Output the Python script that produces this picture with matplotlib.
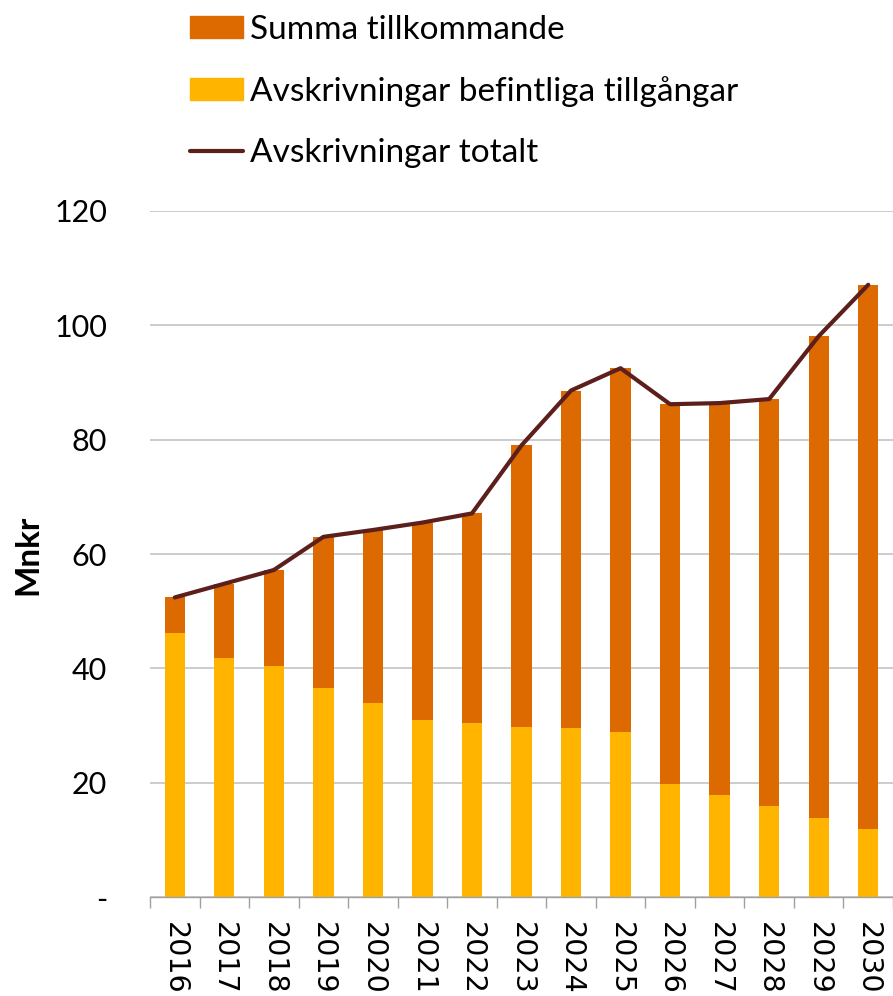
import numpy as np
import matplotlib
matplotlib.use("Agg")
import matplotlib.pyplot as plt
from matplotlib.patches import Patch
from matplotlib.lines import Line2D

years = ['2016', '2017', '2018', '2019', '2020', '2021', '2022', '2023',
         '2024', '2025', '2026', '2027', '2028', '2029', '2030']
befintliga = [46.2, 41.8, 40.4, 36.5, 34.0, 31.0, 30.4, 29.8,
              29.6, 28.8, 19.8, 17.9, 15.9, 13.9, 11.9]
tillkommande = [6.2, 13.0, 16.8, 26.5, 30.2, 34.5, 36.7, 49.2,
                59.0, 63.7, 66.4, 68.5, 71.2, 84.2, 95.2]
yticks = [0, 20, 40, 60, 80, 100, 120]
ytick_labels = ['-', '20', '40', '60', '80', '100', '120']

c_orange = '#dd6a00'
c_yellow = '#ffb500'
c_line = '#5c1f1b'

totalt = np.array(befintliga) + np.array(tillkommande)
x = np.arange(len(years))

fig = plt.figure(figsize=(8.93, 9.96), dpi=100)
ax = fig.add_axes([150 / 893, 99 / 996, 1 - 150 / 893, (897 - 211) / 996])

ax.bar(x, befintliga, width=0.41, color=c_yellow, zorder=2)
ax.bar(x, tillkommande, width=0.41, bottom=befintliga, color=c_orange, zorder=2)
ax.plot(x, totalt, color=c_line, lw=3, solid_capstyle='round', zorder=3)

ax.set_xlim(-0.5, len(years) - 0.5)
ax.set_ylim(0, 120)
ax.set_yticks(yticks)
ax.set_yticklabels(ytick_labels, family='Lato', fontsize=22)
ax.tick_params(axis='y', length=0, pad=31)
ax.grid(axis='y', color='#c8c8c8', lw=1.3, zorder=0)
ax.set_axisbelow(True)

# year labels read top to bottom, ticks sit between the bars
ax.set_xticks(x)
ax.set_xticklabels(years, rotation=270, family='DejaVu Sans', fontsize=20.5)
ax.tick_params(axis='x', length=0, pad=18)
ax.set_xticks(np.arange(-0.5, len(years)), minor=True)
ax.tick_params(axis='x', which='minor', length=8, width=1, color='#a0a0a0')

for s in ['left', 'top', 'right']:
    ax.spines[s].set_visible(False)
ax.spines['bottom'].set_color('#a0a0a0')
ax.spines['bottom'].set_linewidth(1)

fig.text(28 / 893, 1 - 555 / 996, 'Mnkr', rotation=90, family='Lato',
         fontweight='bold', fontsize=24, ha='center', va='center')

handles = [Patch(color=c_orange), Patch(color=c_yellow),
           Line2D([], [], color=c_line, lw=3, solid_capstyle='round')]
labels = ['Summa tillkommande', 'Avskrivningar befintliga tillgångar',
          'Avskrivningar totalt']
fig.legend(handles, labels, loc='upper left', bbox_to_anchor=(190 / 893, 1 - 15 / 996),
           frameon=False, prop={'family': 'Lato', 'size': 24}, borderpad=0,
           borderaxespad=0, handlelength=1.6, handleheight=0.65,
           handletextpad=0.2, labelspacing=0.93)

fig.savefig('out.png', dpi=100)
